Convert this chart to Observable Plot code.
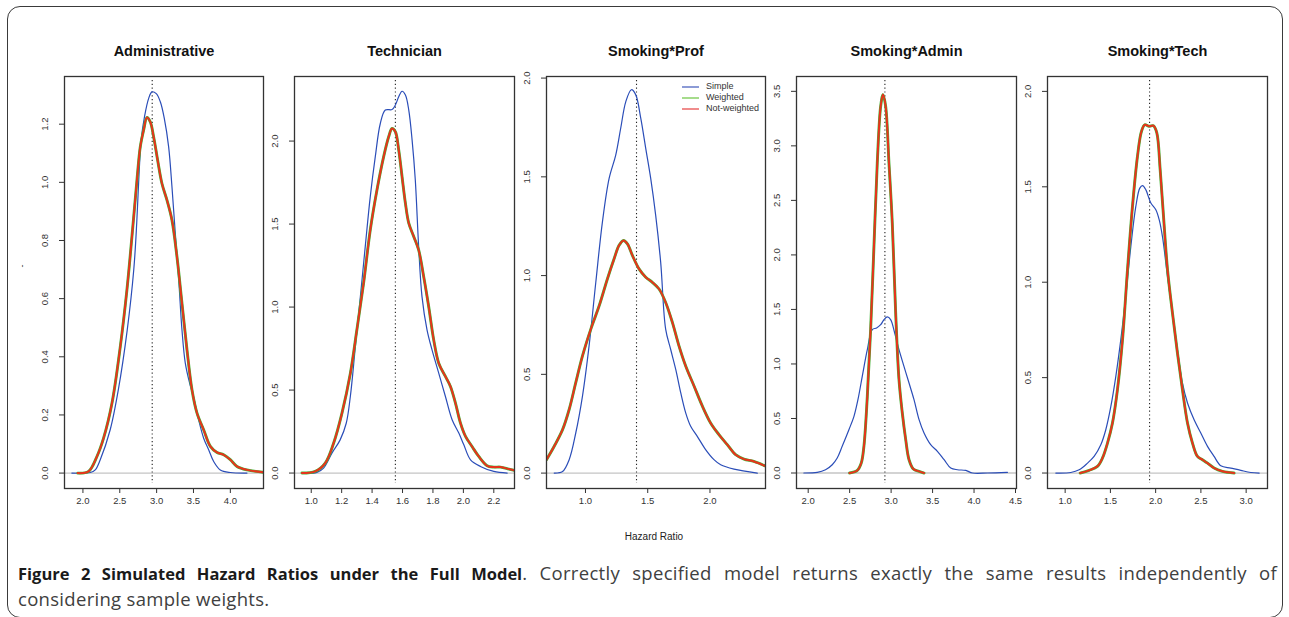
<!DOCTYPE html>
<html>
<head>
<meta charset="utf-8">
<script src="https://cdn.jsdelivr.net/npm/d3@7"></script>
<script src="https://cdn.jsdelivr.net/npm/@observablehq/plot@0.6"></script>
<style>
  body { margin: 0; background: #fff; }
  #fig { position: relative; width: 1289px; height: 617px; overflow: hidden; font-family: "Liberation Sans", Arial, sans-serif; }
  #border { position: absolute; left: 7px; top: 6px; width: 1276px; height: 612px; border: 1.5px solid #3a3a3a; border-radius: 13px; box-sizing: border-box; }
  .panel { position: absolute; }
  #legend { position: absolute; left: 682px; top: 81px; font-size: 9px; color: #333; line-height: 11px; }
  #legend .row { display: flex; align-items: center; }
  #legend .sw { width: 17px; height: 0; border-top: 2px solid; margin-right: 7px; }
  #xlabel { position: absolute; left: 0; width: 1308px; top: 531px; text-align: center; font-size: 10px; color: #222; }
  #ydash { position: absolute; left: 20px; top: 261px; font-size: 9px; color: #333; transform: rotate(-90deg); }
  .cap { position: absolute; left: 18px; width: 1259px; font-family: "Open Sans", "Noto Sans", sans-serif; font-size: 18.5px; letter-spacing: 0.3px; line-height: 26px; color: #404040; }
  #cap1 { top: 560px; text-align: justify; text-align-last: justify; }
  #cap2 { top: 586px; text-align: left; }
  .cap b { color: #1a1a1a; font-size: 16.5px; letter-spacing: 0; }
</style>
</head>
<body>
<div id="fig">
  <div id="border"></div>
  <div id="ydash">-</div>
  <div id="legend"></div>
  <div id="xlabel">Hazard Ratio</div>
  <div class="cap" id="cap1"><b>Figure 2 Simulated Hazard Ratios under the Full Model</b>. Correctly specified model returns exactly the same results independently of</div>
  <div class="cap" id="cap2">considering sample weights.</div>
</div>
<script>
// Panel titles and the true hazard ratio of each simulated coefficient
const titles = ["Administrative", "Technician", "Smoking*Prof", "Smoking*Admin", "Smoking*Tech"];
const trueHR = [2.94, 1.553, 1.41, 2.925, 1.933];

// Series names and colours
const seriesNames = ["Simple", "Weighted", "Not-weighted"];
const seriesColors = ["#2a4db8", "#44b53a", "#e8321c"];
const legendColors = ["#8c9bd6", "#a6dc8c", "#f08c8c"];

// Axis ticks per panel
const xTicks = [
  [2.0, 2.5, 3.0, 3.5, 4.0],
  [1.0, 1.2, 1.4, 1.6, 1.8, 2.0, 2.2],
  [1.0, 1.5, 2.0],
  [2.0, 2.5, 3.0, 3.5, 4.0, 4.5],
  [1.0, 1.5, 2.0, 2.5, 3.0]
];
const yTicks = [
  [0.0, 0.2, 0.4, 0.6, 0.8, 1.0, 1.2],
  [0.0, 0.5, 1.0, 1.5, 2.0],
  [0.0, 0.5, 1.0, 1.5, 2.0],
  [0.0, 0.5, 1.0, 1.5, 2.0, 2.5, 3.0, 3.5],
  [0.0, 0.5, 1.0, 1.5, 2.0]
];
const xDomains = [[1.75, 4.45], [0.89, 2.336], [0.687, 2.446], [1.859, 4.512], [0.805, 3.236]];
const yDomains = [[-0.053, 1.364], [-0.093, 2.389], [-0.078, 2.008], [-0.142, 3.636], [-0.081, 2.078]];

// Density estimates: [hazard ratio, density]
const adminSimple = [[1.85,0],[2.1,0.002],[2.167,0.011],[2.235,0.046],[2.37,0.149],[2.48,0.286],[2.6,0.49],[2.69,0.70],[2.73,0.86],[2.756,1.0],[2.79,1.145],[2.835,1.225],[2.891,1.288],[2.937,1.311],[2.995,1.305],[3.05,1.277],[3.104,1.22],[3.163,1.122],[3.208,0.985],[3.25,0.836],[3.30,0.664],[3.344,0.492],[3.389,0.378],[3.448,0.309],[3.5,0.263],[3.57,0.183],[3.638,0.12],[3.706,0.08],[3.774,0.04],[3.864,0.011],[4.0,0.002],[4.226,0]];
const adminWeighted = [[1.93,0],[2.077,0.006],[2.19,0.057],[2.28,0.12],[2.394,0.24],[2.507,0.435],[2.597,0.63],[2.665,0.813],[2.733,1.008],[2.778,1.122],[2.824,1.18],[2.869,1.223],[2.914,1.208],[2.959,1.157],[3.014,1.076],[3.072,0.996],[3.14,0.939],[3.208,0.87],[3.276,0.744],[3.344,0.584],[3.412,0.424],[3.48,0.286],[3.548,0.206],[3.638,0.149],[3.729,0.092],[3.819,0.071],[3.91,0.063],[4.0,0.046],[4.09,0.023],[4.226,0.011],[4.45,0.003]];
const adminNotWeighted = adminWeighted;

const techSimple = [[0.939,0],[1.037,0.004],[1.081,0.03],[1.136,0.12],[1.19,0.2],[1.23,0.30],[1.257,0.461],[1.29,0.762],[1.323,1.063],[1.355,1.364],[1.388,1.665],[1.421,1.906],[1.454,2.106],[1.487,2.187],[1.531,2.19],[1.553,2.217],[1.575,2.267],[1.597,2.30],[1.619,2.277],[1.641,2.187],[1.663,2.006],[1.684,1.765],[1.706,1.364],[1.728,1.063],[1.761,0.863],[1.794,0.742],[1.838,0.602],[1.882,0.461],[1.926,0.321],[1.97,0.241],[2.003,0.17],[2.047,0.08],[2.112,0.04],[2.2,0.01],[2.288,0]];
const techWeighted = [[0.939,0],[1.026,0.01],[1.092,0.06],[1.147,0.18],[1.202,0.361],[1.257,0.60],[1.30,0.863],[1.344,1.143],[1.388,1.464],[1.432,1.705],[1.476,1.906],[1.509,2.026],[1.531,2.076],[1.553,2.056],[1.575,1.946],[1.597,1.785],[1.619,1.625],[1.641,1.505],[1.674,1.424],[1.706,1.344],[1.739,1.184],[1.772,1.003],[1.805,0.802],[1.838,0.662],[1.882,0.582],[1.915,0.522],[1.948,0.421],[1.981,0.301],[2.014,0.221],[2.057,0.16],[2.101,0.10],[2.156,0.044],[2.2,0.036],[2.244,0.036],[2.299,0.024],[2.336,0.016]];
const techNotWeighted = techWeighted;

const smokProfSimple = [[0.749,0],[0.816,0.008],[0.869,0.068],[0.922,0.203],[0.976,0.39],[1.029,0.644],[1.083,0.966],[1.136,1.271],[1.19,1.492],[1.243,1.61],[1.283,1.746],[1.324,1.881],[1.369,1.941],[1.404,1.915],[1.444,1.797],[1.484,1.644],[1.524,1.492],[1.564,1.305],[1.604,1.068],[1.644,0.729],[1.684,0.627],[1.725,0.525],[1.765,0.407],[1.805,0.305],[1.845,0.237],[1.898,0.186],[1.965,0.119],[2.032,0.068],[2.086,0.042],[2.193,0.02],[2.38,0]];
const smokProfWeighted = [[0.687,0.068],[0.749,0.136],[0.816,0.22],[0.869,0.322],[0.922,0.458],[0.976,0.593],[1.043,0.729],[1.11,0.847],[1.176,0.983],[1.23,1.085],[1.27,1.153],[1.305,1.178],[1.337,1.161],[1.377,1.102],[1.43,1.034],[1.484,0.992],[1.537,0.966],[1.591,0.932],[1.644,0.864],[1.698,0.763],[1.751,0.644],[1.805,0.542],[1.872,0.441],[1.939,0.339],[2.005,0.254],[2.072,0.195],[2.139,0.144],[2.206,0.093],[2.273,0.071],[2.353,0.059],[2.439,0.037]];
const smokProfNotWeighted = smokProfWeighted;

const smokAdminSimple = [[1.948,0],[2.109,0.006],[2.209,0.03],[2.29,0.076],[2.35,0.138],[2.41,0.245],[2.491,0.397],[2.552,0.52],[2.6,0.673],[2.652,0.887],[2.713,1.131],[2.773,1.315],[2.825,1.33],[2.874,1.36],[2.914,1.406],[2.954,1.431],[2.994,1.406],[3.043,1.284],[3.095,1.131],[3.155,0.978],[3.216,0.825],[3.276,0.673],[3.337,0.489],[3.397,0.367],[3.477,0.26],[3.558,0.199],[3.639,0.122],[3.719,0.046],[3.8,0.03],[3.9,0.024],[3.981,0],[4.162,0],[4.403,0.006]];
const smokAdminWeighted = [[2.499,0],[2.592,0.024],[2.64,0.092],[2.672,0.245],[2.713,0.703],[2.753,1.315],[2.793,2.079],[2.833,2.843],[2.874,3.363],[2.902,3.47],[2.934,3.363],[2.974,2.843],[3.014,2.293],[3.055,1.467],[3.095,0.856],[3.135,0.55],[3.176,0.306],[3.216,0.122],[3.268,0.037],[3.337,0.015],[3.397,0]];
const smokAdminNotWeighted = smokAdminWeighted;

const smokTechSimple = [[0.897,0],[1.063,0.003],[1.155,0.017],[1.247,0.052],[1.32,0.087],[1.394,0.148],[1.449,0.227],[1.505,0.349],[1.56,0.507],[1.615,0.699],[1.67,0.926],[1.726,1.188],[1.781,1.397],[1.825,1.493],[1.855,1.506],[1.891,1.485],[1.947,1.415],[2.002,1.38],[2.039,1.328],[2.075,1.24],[2.131,1.031],[2.186,0.838],[2.241,0.646],[2.296,0.472],[2.352,0.367],[2.425,0.279],[2.499,0.21],[2.573,0.14],[2.646,0.087],[2.72,0.038],[2.831,0.026],[2.941,0.014],[3.052,0.003],[3.144,0]];
const smokTechWeighted = [[1.166,0],[1.265,0.014],[1.357,0.035],[1.413,0.079],[1.468,0.157],[1.523,0.262],[1.578,0.437],[1.634,0.699],[1.689,1.066],[1.744,1.397],[1.799,1.659],[1.843,1.79],[1.88,1.825],[1.928,1.817],[1.976,1.82],[2.013,1.782],[2.05,1.59],[2.087,1.345],[2.131,1.066],[2.186,0.838],[2.241,0.629],[2.296,0.437],[2.352,0.262],[2.407,0.157],[2.462,0.087],[2.517,0.07],[2.573,0.052],[2.646,0.026],[2.738,0.009],[2.867,0]];
const smokTechNotWeighted = smokTechWeighted;

const simpleCurves = [adminSimple, techSimple, smokProfSimple, smokAdminSimple, smokTechSimple];
const weightedCurves = [adminWeighted, techWeighted, smokProfWeighted, smokAdminWeighted, smokTechWeighted];
const notWeightedCurves = [adminNotWeighted, techNotWeighted, smokProfNotWeighted, smokAdminNotWeighted, smokTechNotWeighted];

// Plot-region placement on the page (px)
const frameLeft = [64, 294, 546, 796, 1047];
const frameRight = [263, 514, 765, 1016, 1267];
const frameTop = 76, frameBottom = 488;
const M = {top: 40, bottom: 40, left: 40, right: 12};

const fig = document.getElementById("fig");
const fmt = d3.format(".1f");

titles.forEach((title, i) => {
  const w = frameRight[i] - frameLeft[i];
  const toRows = (arr) => arr.map(([x, y]) => ({x, y}));
  const chart = Plot.plot({
    width: w + M.left + M.right,
    height: frameBottom - frameTop + M.top + M.bottom,
    marginTop: M.top, marginBottom: M.bottom, marginLeft: M.left, marginRight: M.right,
    style: {fontFamily: "'Liberation Sans', Arial, sans-serif", background: "transparent", overflow: "visible", color: "#333"},
    x: {domain: xDomains[i]},
    y: {domain: yDomains[i]},
    marks: [
      Plot.ruleY([0], {stroke: "#c4c4c4", strokeWidth: 1.3}),
      Plot.ruleX([trueHR[i]], {stroke: "#222", strokeWidth: 1.1, strokeDasharray: "1.2,2.6", insetTop: 4, insetBottom: 5}),
      Plot.line(toRows(simpleCurves[i]), {x: "x", y: "y", stroke: seriesColors[0], strokeWidth: 1.2, curve: "catmull-rom", clip: true}),
      Plot.line(toRows(weightedCurves[i]), {x: "x", y: "y", stroke: seriesColors[1], strokeWidth: 2.9, curve: "catmull-rom", clip: true}),
      Plot.line(toRows(notWeightedCurves[i]), {x: "x", y: "y", stroke: seriesColors[2], strokeWidth: 2.0, curve: "catmull-rom", clip: true}),
      Plot.frame({stroke: "#333", strokeWidth: 1.3}),
      Plot.axisX({ticks: xTicks[i], tickFormat: fmt, tickSize: 5, tickPadding: 4, fontSize: 9.5, label: null}),
      Plot.axisY({ticks: yTicks[i], tickFormat: fmt, tickSize: 5, tickPadding: 12, tickRotate: -90, fontSize: 9.5, label: null}),
      Plot.text([title], {frameAnchor: "top", dy: -31, fontSize: 14.5, fontWeight: "bold", fill: "#111"})
    ]
  });
  chart.classList.add("panel");
  chart.style.left = (frameLeft[i] - M.left) + "px";
  chart.style.top = (frameTop - M.top) + "px";
  fig.appendChild(chart);
});

// Legend of the Smoking*Prof panel
const legend = document.getElementById("legend");
seriesNames.forEach((name, k) => {
  const row = document.createElement("div");
  row.className = "row";
  const sw = document.createElement("span");
  sw.className = "sw";
  sw.style.borderTopColor = legendColors[k];
  const label = document.createElement("span");
  label.textContent = name;
  row.append(sw, label);
  legend.appendChild(row);
});
fig.appendChild(legend);
</script>
</body>
</html>
